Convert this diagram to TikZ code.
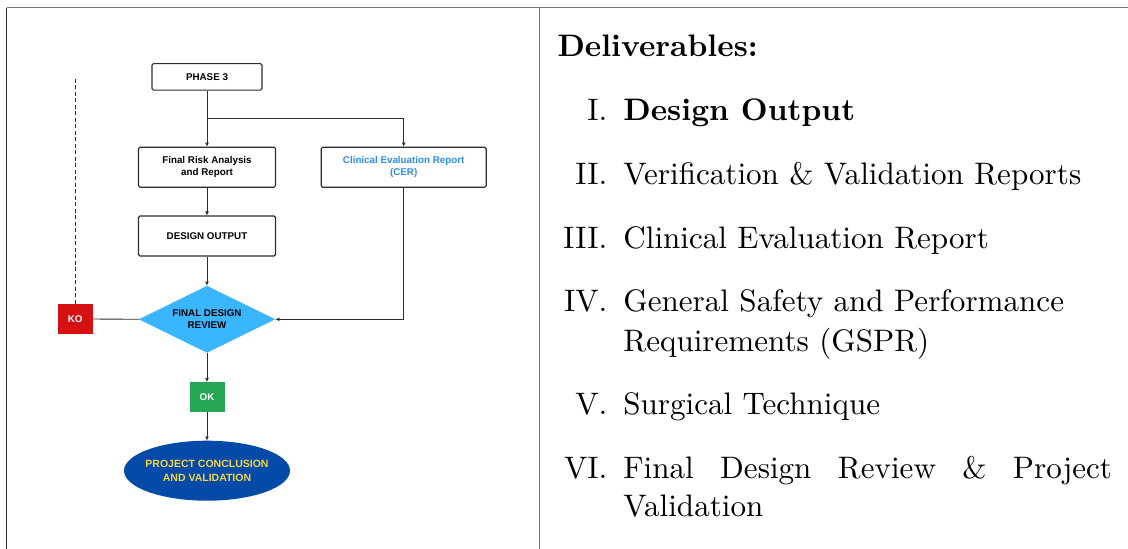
\documentclass[tikz,border=0pt]{standalone}
\usepackage{fontspec}
\usepackage{graphicx}
\newfontfamily\dfont{Liberation Sans}
\usetikzlibrary{shapes.geometric,arrows.meta}
\definecolor{framegray}{RGB}{120,120,120}
\definecolor{framedark}{RGB}{45,45,45}
\definecolor{cerblue}{RGB}{45,140,235}
\definecolor{diamblue}{RGB}{58,181,255}
\definecolor{kored}{RGB}{214,17,17}
\definecolor{okgreen}{RGB}{36,166,82}
\definecolor{ellblue}{RGB}{4,74,168}
\definecolor{ellyellow}{RGB}{245,213,66}
\newcommand{\bigtxt}[1]{\scalebox{3.11}{#1}}
\begin{document}
\begin{tikzpicture}[x=1pt,y=-1pt,
  dtext/.style={font=\dfont\bfseries\fontsize{9.8}{12.3}\selectfont,align=center},
  box/.style={dtext,draw=framedark,line width=1.1pt,rounded corners=1.5pt,
    minimum width=#1,minimum height=40,inner sep=0},
  tag/.style={dtext,text=white,fill=#1,minimum width=35,minimum height=30,inner sep=0},
  conn/.style={draw=framedark,line width=0.9pt},
  arr/.style={conn,-{Latex[length=4pt,width=4pt]}},
  rtext/.style={inner sep=0,anchor=base west},
  rnum/.style={inner sep=0,anchor=base east}]
\useasboundingbox (0,0) rectangle (1128,549);
% frame
\draw[framegray,line width=1.2pt] (6.5,7.5) -- (1128,7.5);
\draw[framedark,line width=1.2pt] (6.5,7.5) -- (6.5,549);
\draw[framegray,line width=1.2pt] (539.5,7.5) -- (539.5,549);
% diagram
\node[box=110,minimum height=26.5] (phase) at (207,76.8) {PHASE 3};
\node[box=137] (risk) at (207,167.2) {Final Risk Analysis\\and Report};
\node[box=165,text=cerblue] (cer) at (403.7,167.2) {Clinical Evaluation Report\\(CER)};
\node[box=137] (dout) at (207,236) {DESIGN OUTPUT};
\node[diamond,fill=diamblue,aspect=2,minimum width=136.5,minimum height=67,inner sep=0] (review) at (207,319.3) {};
\node[dtext] (reviewtxt) at (207,318.8) {FINAL DESIGN\\REVIEW};
\node[tag=kored] (ko) at (75.2,319) {KO};
\node[tag=okgreen] (ok) at (207,397.2) {OK};
\node[ellipse,fill=ellblue,minimum width=166,minimum height=60,inner sep=0] (proj) at (207,470.7) {};
\node[text=ellyellow,font=\dfont\bfseries\fontsize{10.5}{14.3}\selectfont,align=center] (projtxt) at (207,470.7)
  {PROJECT CONCLUSION\\AND VALIDATION};
\coordinate (split) at (207,118.3);
\coordinate (dashtop) at (75.2,77);
% connectors
\draw[arr] (phase.south) -- (risk.north);
\draw[arr] (split) -| (cer.north);
\draw[arr] (risk.south) -- (dout.north);
\draw[arr] (dout.south) -- (review.north);
\draw[arr] (cer.south) |- (review.east);
\draw[conn] (ko.east) -- (review.west);
\draw[conn,dash pattern=on 4pt off 2.5pt] (ko.north) -- (dashtop);
\draw[arr] (review.south) -- (ok.north);
\draw[arr] (ok.south) -- (proj.north);
% deliverables
\node[rtext] (del) at (557.3,56.7) {\bigtxt{\textbf{Deliverables:}}};
\node[rnum] (n1) at (607.5,120.8) {\bigtxt{I.}};
\node[rtext] (t1) at (623.2,120.8) {\bigtxt{\textbf{Design Output}}};
\node[rnum] (n2) at (607.5,184.5) {\bigtxt{II.}};
\node[rtext] (t2) at (623.2,184.5) {\bigtxt{Verification \& Validation Reports}};
\node[rnum] (n3) at (607.5,248.6) {\bigtxt{III.}};
\node[rtext] (t3) at (623.2,248.6) {\bigtxt{Clinical Evaluation Report}};
\node[rnum] (n4) at (607.5,311.6) {\bigtxt{IV.}};
\node[rtext] (t4) at (623.2,311.6) {\bigtxt{General Safety and Performance}};
\node[rtext] (t4b) at (623.2,351.2) {\bigtxt{Requirements (GSPR)}};
\node[rnum] (n5) at (607.5,414.2) {\bigtxt{V.}};
\node[rtext] (t5) at (623.2,414.2) {\bigtxt{Surgical Technique}};
\node[rnum] (n6) at (607.5,478) {\bigtxt{VI.}};
\node[rtext] (t6) at (623.2,478) {\bigtxt{\hbox to 157.1pt{Final\hfill Design\hfill Review\hfill \&\hfill Project}}};
\node[rtext] (t6b) at (623.2,516.5) {\bigtxt{Validation}};
\end{tikzpicture}
\end{document}
